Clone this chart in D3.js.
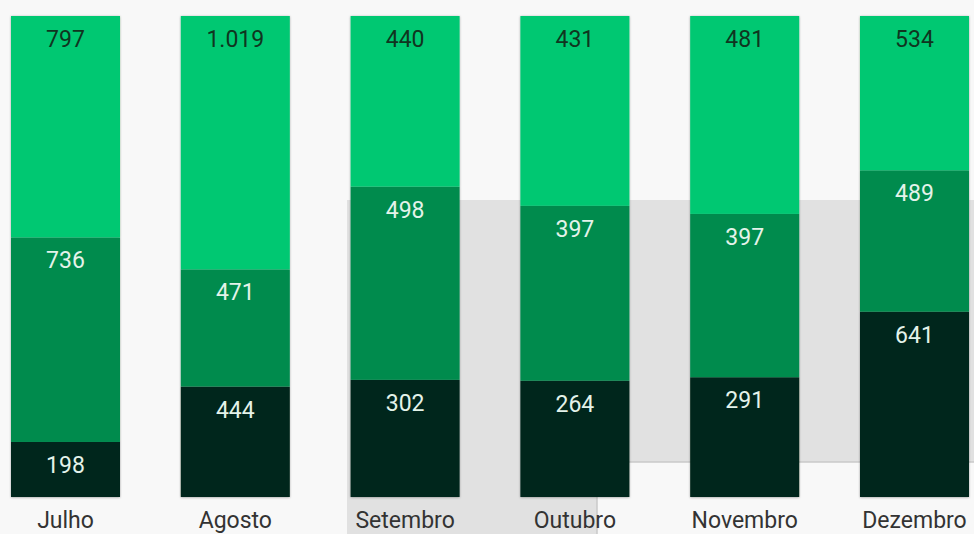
<!DOCTYPE html>
<html>
<head>
<meta charset="utf-8">
<script src="https://cdn.jsdelivr.net/npm/d3@7"></script>
<style>
  html, body { margin: 0; padding: 0; background: #f8f8f8; }
  svg { display: block; }
</style>
</head>
<body>
<svg id="chart" width="974" height="534"></svg>
<script>
// Monthly counts, stacked bottom -> top, normalised to 100% per month
const months = ["Julho", "Agosto", "Setembro", "Outubro", "Novembro", "Dezembro"];
const seriesKeys = ["baixo", "meio", "topo"];
const valuesBaixo = [198, 444, 302, 264, 291, 641];
const valuesMeio  = [736, 471, 498, 397, 397, 489];
const valuesTopo  = [797, 1019, 440, 431, 481, 534];

const colors = { baixo: "#03281b", meio: "#038b4e", topo: "#04c872" };
const labelColors = { baixo: "#e4f3ea", meio: "#e4f3ea", topo: "#10351f" };

const svg = d3.select("#chart");

const rows = months.map((m, i) => ({
  month: m,
  baixo: valuesBaixo[i],
  meio: valuesMeio[i],
  topo: valuesTopo[i]
}));

const stack = d3.stack().keys(seriesKeys).offset(d3.stackOffsetExpand);
const layers = stack(rows);

const x = d3.scaleBand().domain(months).range([11, 969]).paddingInner(0.358).paddingOuter(0);
const y = d3.scaleLinear().domain([0, 1]).range([497, 16]);

const fmt = d3.formatLocale({ decimal: ",", thousands: ".", grouping: [3], currency: ["R$", ""] }).format(",d");

// soft shadow under the bars
const defs = svg.append("defs");
const f = defs.append("filter").attr("id", "shadow").attr("x", "-10%").attr("y", "-10%").attr("width", "120%").attr("height", "120%");
f.append("feDropShadow").attr("dx", 0).attr("dy", 0.5).attr("stdDeviation", 1).attr("flood-color", "#000").attr("flood-opacity", 0.35);

// grey panel behind the right-hand bars
svg.append("path")
  .attr("d", "M347,200 H974 V462 H597 V534 H347 Z")
  .attr("fill", "#e1e1e1");
svg.append("path")
  .attr("d", "M974,462 H597 V534")
  .attr("fill", "none")
  .attr("stroke", "#c9c9c9")
  .attr("stroke-width", 1.5);

const barsG = svg.append("g").attr("filter", "url(#shadow)");
barsG.selectAll("g.layer")
  .data(layers)
  .join("g")
  .attr("class", "layer")
  .attr("fill", d => colors[d.key])
  .selectAll("rect")
  .data(d => d)
  .join("rect")
  .attr("x", d => x(d.data.month))
  .attr("width", x.bandwidth())
  .attr("y", d => y(d[1]))
  .attr("height", d => y(d[0]) - y(d[1]));

// value labels near the top of each segment
const labelsG = svg.append("g")
  .attr("font-family", "Roboto, 'Noto Sans', sans-serif")
  .attr("font-size", 23)
  .attr("text-anchor", "middle");

layers.forEach(layer => {
  labelsG.selectAll(null)
    .data(layer)
    .join("text")
    .attr("x", d => x(d.data.month) + x.bandwidth() / 2)
    .attr("y", d => y(d[1]) + 31)
    .attr("fill", labelColors[layer.key])
    .text(d => fmt(d.data[layer.key]));
});

// month labels
const xAxis = d3.axisBottom(x).tickSize(0).tickPadding(0);
const axisG = svg.append("g")
  .attr("transform", "translate(0,497)")
  .call(xAxis);
axisG.select(".domain").remove();
axisG.selectAll("text")
  .attr("font-family", "Roboto, 'Noto Sans', sans-serif")
  .attr("font-size", 23)
  .attr("fill", "#333")
  .attr("dy", null)
  .attr("y", 31);
</script>
</body>
</html>
